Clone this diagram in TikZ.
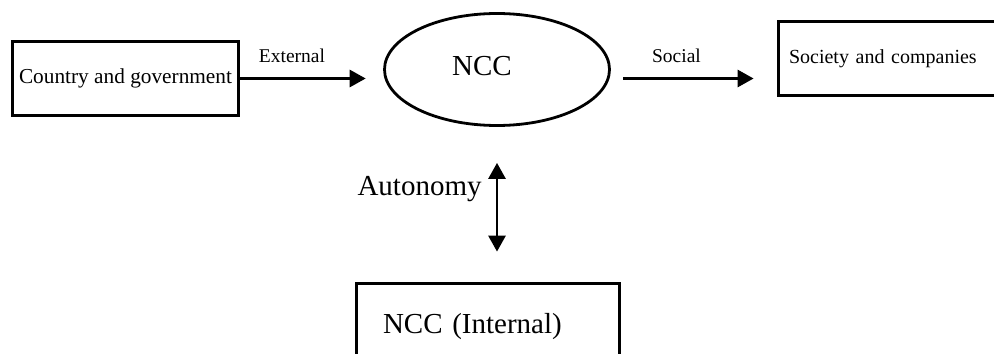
\documentclass[tikz,border=0pt]{standalone}
\usepackage{fontspec}
\setmainfont{Liberation Serif}
\usetikzlibrary{arrows.meta,shapes,positioning,calc}

\tikzset{
    box/.style={draw, line width=1.4pt, inner ysep=0pt, minimum height=37.1pt},
    flow/.style={line width=1.4pt, -{Triangle[length=8pt,width=8.5pt]}},
    twoway/.style={line width=1.4pt, {Triangle[length=8pt,width=8.5pt]}-{Triangle[length=8pt,width=8.5pt]}},
    bigtxt/.style={font=\fontsize{14.5}{17}\selectfont},
    lbltxt/.style={font=\fontsize{9.75}{12}\selectfont, inner sep=0pt},
}

\begin{document}
\begin{tikzpicture}[x=0.5pt, y=-0.5pt]
    \useasboundingbox (0,0) rectangle (994,353);

    % NCC in the middle
    \node[draw, ellipse, line width=1.4pt, inner sep=0pt, minimum width=112.5pt, minimum height=56pt,
          label={[bigtxt, xshift=-7.5pt, yshift=1.75pt]center:NCC}] (ncc) at (497,69.5) {};

    % Outside
    \node[box, minimum width=113pt, inner xsep=0pt, font=\fontsize{10.65}{13}\selectfont] (gov) at (125.5,78.5) {Country and government};
    \node[box, minimum width=111.6pt, inner xsep=5.3pt, text width=101pt, align=left, font=\fontsize{10}{12}\selectfont] (soc) at (890,58.5) {Society and companies};

    % Inside
    \node[box, bigtxt, minimum width=131.6pt, minimum height=43.3pt, inner xsep=13.3pt, text width=105pt, align=left] (int) at (488,326.7) {NCC (Internal)};

    % Arrows
    \draw[flow, shorten >=8.7pt] (gov.east) -- (gov.east -| ncc.west);
    \draw[flow, shorten <=6.2pt, shorten >=11.7pt] (ncc.east |- gov.east) -- (soc.west |- gov.east);
    \draw[twoway, shorten <=18pt, shorten >=15.2pt] (ncc.south) -- (ncc.south |- int.north);

    \node[lbltxt] (ext) at (292,55.5) {External};
    \node[lbltxt] (socl) at (676.5,55.5) {Social};
    \node[bigtxt, inner sep=0pt, anchor=east] (aut) at (482,189) {Autonomy};
\end{tikzpicture}
\end{document}
